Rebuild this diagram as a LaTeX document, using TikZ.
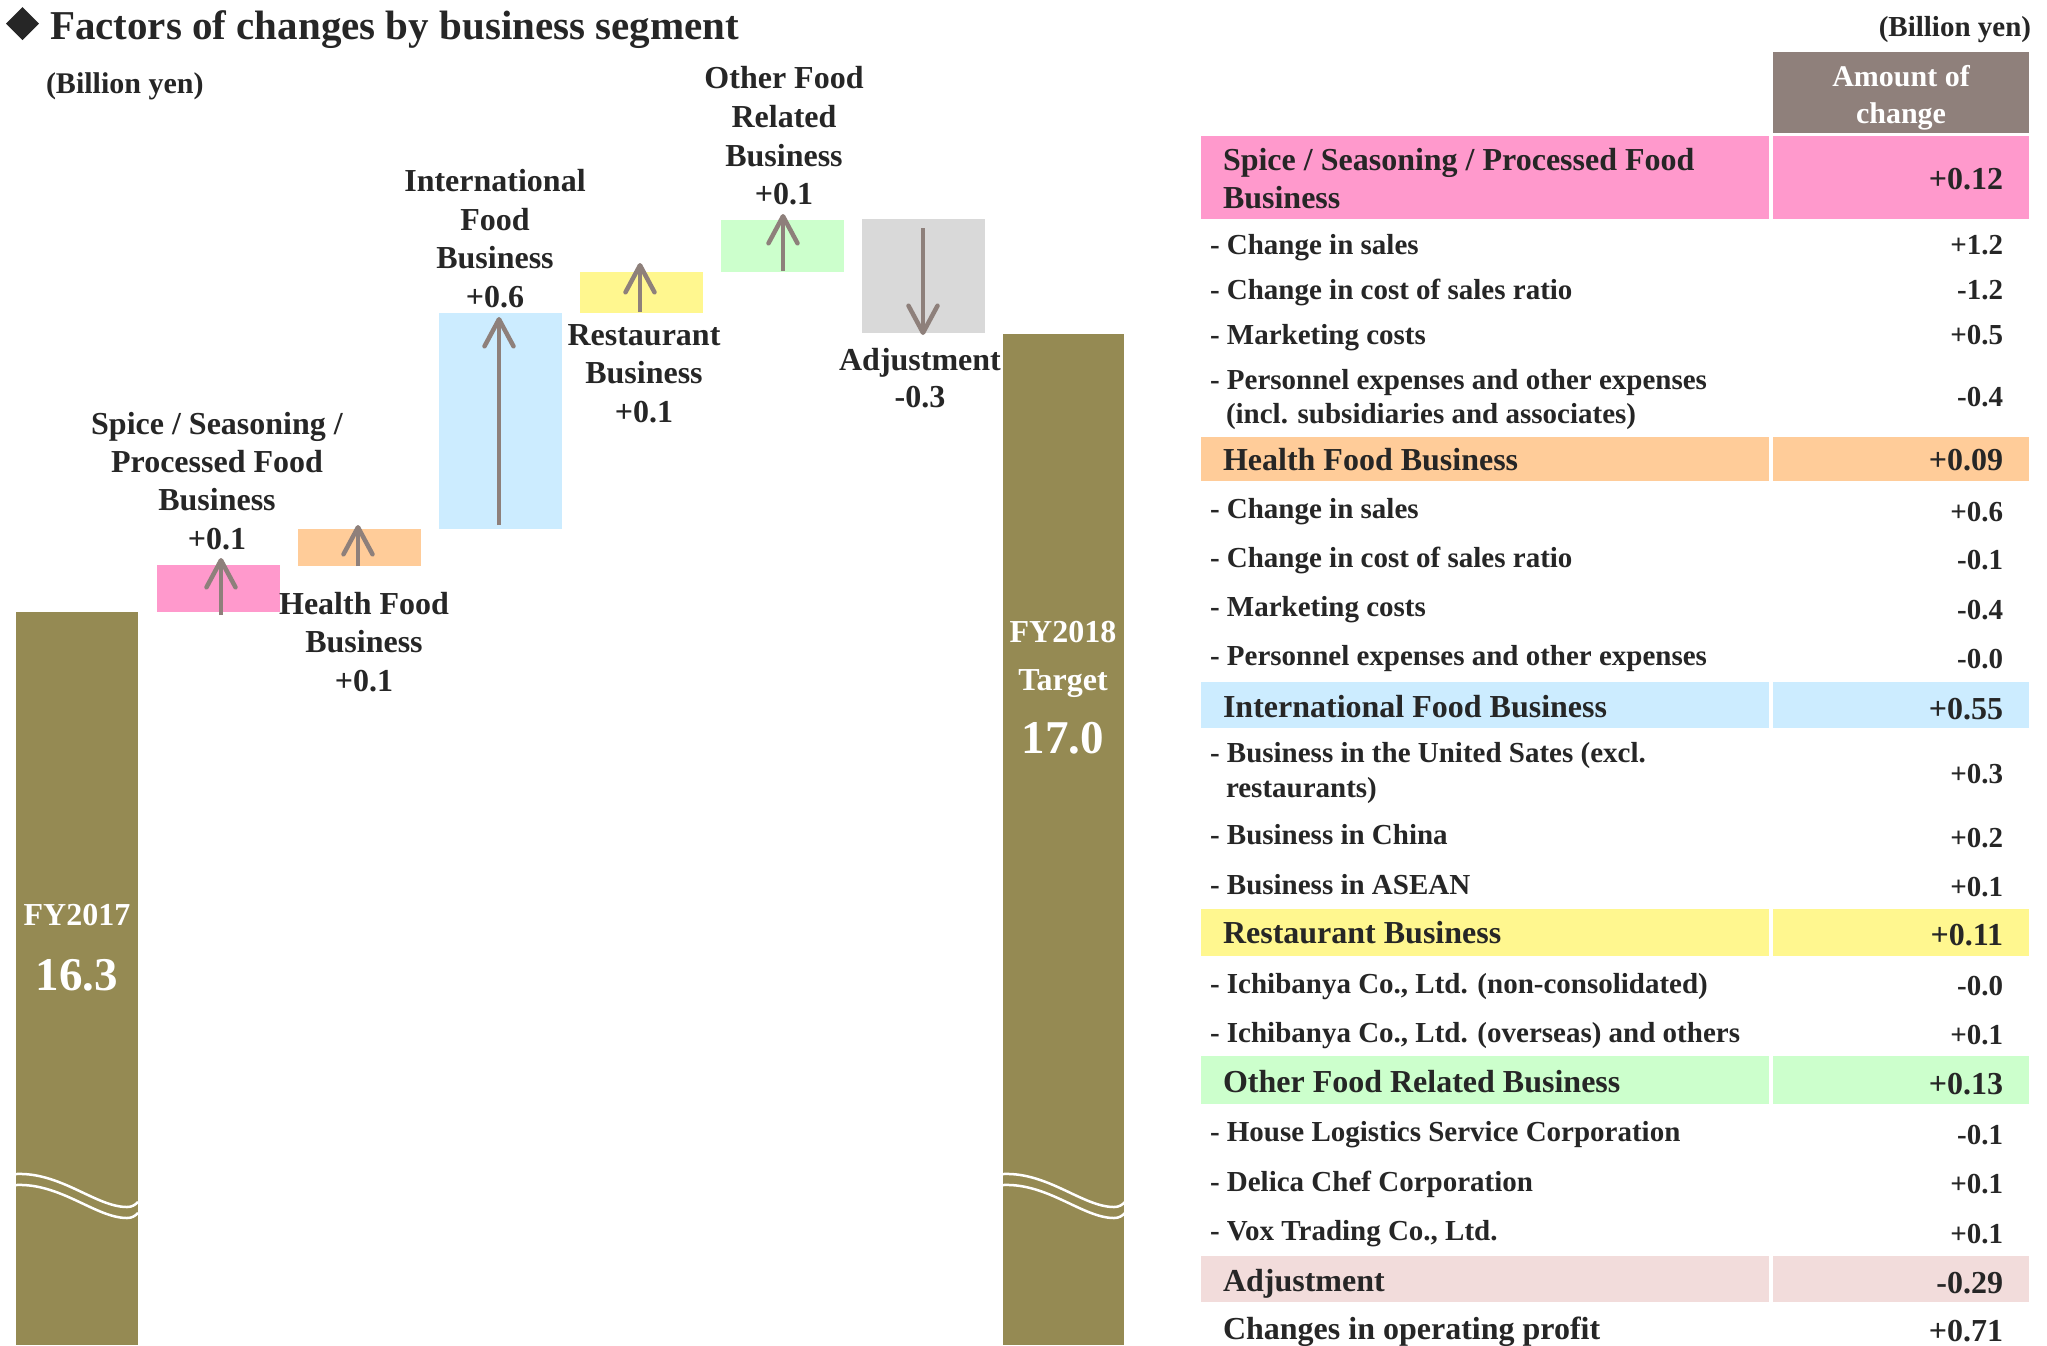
\documentclass[tikz,border=0pt]{standalone}
\usepackage{fontspec}
\setmainfont{Liberation Serif}
\usetikzlibrary{arrows.meta}

\definecolor{txt}{HTML}{262626}
\definecolor{olive}{HTML}{958A53}
\definecolor{arrowc}{HTML}{8E807B}
\definecolor{pinkc}{HTML}{FF99CC}
\definecolor{orangec}{HTML}{FFCC99}
\definecolor{bluec}{HTML}{CCECFF}
\definecolor{yellowc}{HTML}{FFF78F}
\definecolor{greenc}{HTML}{CCFFCC}
\definecolor{grayc}{HTML}{D9D9D9}
\definecolor{headc}{HTML}{8F807B}
\definecolor{adjc}{HTML}{F2DCDB}

\tikzset{
  every node/.style={inner sep=0pt, outer sep=0pt, text=txt},
  lbl/.style={anchor=base, font=\bfseries\fontsize{32}{38}\selectfont},
  barlbl/.style={anchor=base, text=white, font=\bfseries\fontsize{32}{38}\selectfont},
  barval/.style={anchor=base, text=white, font=\bfseries\fontsize{47}{56}\selectfont},
  rowmain/.style={anchor=base west, font=\bfseries\fontsize{32}{38}\selectfont},
  rowval/.style={anchor=base east, font=\bfseries\fontsize{32}{38}\selectfont},
  subitem/.style={anchor=base west, font=\bfseries\fontsize{29}{35}\selectfont},
  subval/.style={anchor=base east, font=\bfseries\fontsize{29}{35}\selectfont},
  chg/.style={draw=arrowc, line width=4.5pt, -{Straight Barb[length=27pt,width=29pt,round]}},
  wave/.style={draw=white, line width=2.5pt},
}

\begin{document}
\begin{tikzpicture}[x=1pt, y=-1pt]
\useasboundingbox (0,0) rectangle (2047,1345);

% ---------- heading ----------
\fill[txt] (22.5,7) -- (39,23.5) -- (22.5,40) -- (6,23.5) -- cycle;
\node[anchor=base west, font=\bfseries\fontsize{41}{48}\selectfont] (title) at (50,39) {Factors of changes by business segment};
\node[anchor=base west, font=\bfseries\fontsize{30}{36}\selectfont] (unitL) at (46,93) {(Billion yen)};

% ---------- waterfall bars ----------
\fill[olive] (16,612) rectangle (138,1345);
\fill[pinkc] (157,565) rectangle (280,612);
\fill[orangec] (298,529) rectangle (421,566);
\fill[bluec] (439,313) rectangle (562,529);
\fill[yellowc] (580,272) rectangle (703,313);
\fill[greenc] (721,220) rectangle (844,272);
\fill[grayc] (862,219) rectangle (985,333);
\fill[olive] (1003,334) rectangle (1124,1345);

% axis break marks on the two total bars
\foreach \bx in {16,1003} {
  \foreach \dy in {0,11} {
    \draw[wave] (\bx,1174+\dy) .. controls (\bx+45,1172+\dy) and (\bx+80,1207+\dy) .. (\bx+111,1207+\dy)
      .. controls (\bx+116,1207+\dy) and (\bx+119,1205+\dy) .. (\bx+122,1202+\dy);
  }
}

% change arrows
\coordinate (pS) at (221,615); \coordinate (pE) at (221,558);
\coordinate (oS) at (358,566); \coordinate (oE) at (358,525);
\coordinate (bS) at (499,525); \coordinate (bE) at (499,317);
\coordinate (yS) at (640,312); \coordinate (yE) at (640,263);
\coordinate (gS) at (783,271); \coordinate (gE) at (783,214);
\coordinate (aS) at (923,228); \coordinate (aE) at (923,335);
\draw[chg] (pS) -- (pE);
\draw[chg] (oS) -- (oE);
\draw[chg] (bS) -- (bE);
\draw[chg] (yS) -- (yE);
\draw[chg] (gS) -- (gE);
\draw[chg] (aS) -- (aE);

% segment labels
\node[lbl] (sp1) at (217,434) {Spice / Seasoning /};
\node[lbl] (sp2) at (217,472) {Processed Food};
\node[lbl] (sp3) at (217,510) {Business};
\node[lbl] (sp4) at (217,549) {+0.1};

\node[lbl] (hf1) at (364,614) {Health Food};
\node[lbl] (hf2) at (364,652) {Business};
\node[lbl] (hf3) at (364,691) {+0.1};

\node[lbl] (if1) at (495,191) {International};
\node[lbl] (if2) at (495,230) {Food};
\node[lbl] (if3) at (495,268) {Business};
\node[lbl] (if4) at (495,307) {+0.6};

\node[lbl] (rb1) at (644,345) {Restaurant};
\node[lbl] (rb2) at (644,383) {Business};
\node[lbl] (rb3) at (644,422) {+0.1};

\node[lbl] (of1) at (784,88) {Other Food};
\node[lbl] (of2) at (784,127) {Related};
\node[lbl] (of3) at (784,166) {Business};
\node[lbl] (of4) at (784,204) {+0.1};

\node[lbl] (ad1) at (920,370) {Adjustment};
\node[lbl] (ad2) at (920,407) {-0.3};

% totals
\node[barlbl] (fy17) at (77,925) {FY2017};
\node[barval] (fy17v) at (77,990) {16.3};
\node[barlbl] (fy18) at (1063,642) {FY2018};
\node[barlbl] (fy18t) at (1063,690) {Target};
\node[barval] (fy18v) at (1063,753) {17.0};

% ---------- breakdown table ----------
\node[anchor=base east, font=\bfseries\fontsize{29}{35}\selectfont] (unitR) at (2031,36) {(Billion yen)};

\fill[headc] (1773,52) rectangle (2029,133);
\node[barlbl, font=\bfseries\fontsize{30}{36}\selectfont] (hd1) at (1901,86) {Amount of};
\node[barlbl, font=\bfseries\fontsize{30}{36}\selectfont] (hd2) at (1901,123) {change};

% coloured segment rows: left cell and value cell
\foreach \ya/\yb/\c in {136/219/pinkc, 437/481/orangec, 682/728/bluec, 909/956/yellowc, 1056/1104/greenc, 1256/1302/adjc} {
  \fill[\c] (1201,\ya) rectangle (1769,\yb);
  \fill[\c] (1773,\ya) rectangle (2029,\yb);
}

% Spice / Seasoning / Processed Food
\node[rowmain] (t1a) at (1223,170) {Spice / Seasoning / Processed Food};
\node[rowmain] (t1b) at (1223,208) {Business};
\node[rowval] (t1v) at (2003,189) {+0.12};
\node[subitem] (s11) at (1210,254) {- Change in sales};
\node[subval] (s11v) at (2003,254) {+1.2};
\node[subitem] (s12) at (1210,299) {- Change in cost of sales ratio};
\node[subval] (s12v) at (2003,299) {-1.2};
\node[subitem] (s13) at (1210,344) {- Marketing costs};
\node[subval] (s13v) at (2003,344) {+0.5};
\node[subitem] (s14) at (1210,389) {- Personnel expenses and other expenses};
\node[subitem] (s14b) at (1226,423) {(incl. subsidiaries and associates)};
\node[subval] (s14v) at (2003,406) {-0.4};

% Health Food
\node[rowmain] (t2) at (1223,470) {Health Food Business};
\node[rowval] (t2v) at (2003,470) {+0.09};
\node[subitem] (s21) at (1210,518) {- Change in sales};
\node[subval] (s21v) at (2003,521) {+0.6};
\node[subitem] (s22) at (1210,567) {- Change in cost of sales ratio};
\node[subval] (s22v) at (2003,569) {-0.1};
\node[subitem] (s23) at (1210,616) {- Marketing costs};
\node[subval] (s23v) at (2003,619) {-0.4};
\node[subitem] (s24) at (1210,665) {- Personnel expenses and other expenses};
\node[subval] (s24v) at (2003,668) {-0.0};

% International Food
\node[rowmain] (t3) at (1223,717) {International Food Business};
\node[rowval] (t3v) at (2003,719) {+0.55};
\node[subitem] (s31) at (1210,762) {- Business in the United Sates (excl.};
\node[subitem] (s31b) at (1226,797) {restaurants)};
\node[subval] (s31v) at (2003,783) {+0.3};
\node[subitem] (s32) at (1210,844) {- Business in China};
\node[subval] (s32v) at (2003,847) {+0.2};
\node[subitem] (s33) at (1210,894) {- Business in ASEAN};
\node[subval] (s33v) at (2003,896) {+0.1};

% Restaurant
\node[rowmain] (t4) at (1223,943) {Restaurant Business};
\node[rowval] (t4v) at (2003,945) {+0.11};
\node[subitem] (s41) at (1210,993) {- Ichibanya Co., Ltd. (non-consolidated)};
\node[subval] (s41v) at (2003,995) {-0.0};
\node[subitem] (s42) at (1210,1042) {- Ichibanya Co., Ltd. (overseas) and others};
\node[subval] (s42v) at (2003,1044) {+0.1};

% Other Food Related
\node[rowmain] (t5) at (1223,1092) {Other Food Related Business};
\node[rowval] (t5v) at (2003,1094) {+0.13};
\node[subitem] (s51) at (1210,1141) {- House Logistics Service Corporation};
\node[subval] (s51v) at (2003,1144) {-0.1};
\node[subitem] (s52) at (1210,1191) {- Delica Chef Corporation};
\node[subval] (s52v) at (2003,1193) {+0.1};
\node[subitem] (s53) at (1210,1240) {- Vox Trading Co., Ltd.};
\node[subval] (s53v) at (2003,1243) {+0.1};

% Adjustment and total
\node[rowmain] (t6) at (1223,1291) {Adjustment};
\node[rowval] (t6v) at (2003,1293) {-0.29};
\node[rowmain] (t7) at (1223,1339) {Changes in operating profit};
\node[rowval] (t7v) at (2003,1341) {+0.71};

\end{tikzpicture}
\end{document}
